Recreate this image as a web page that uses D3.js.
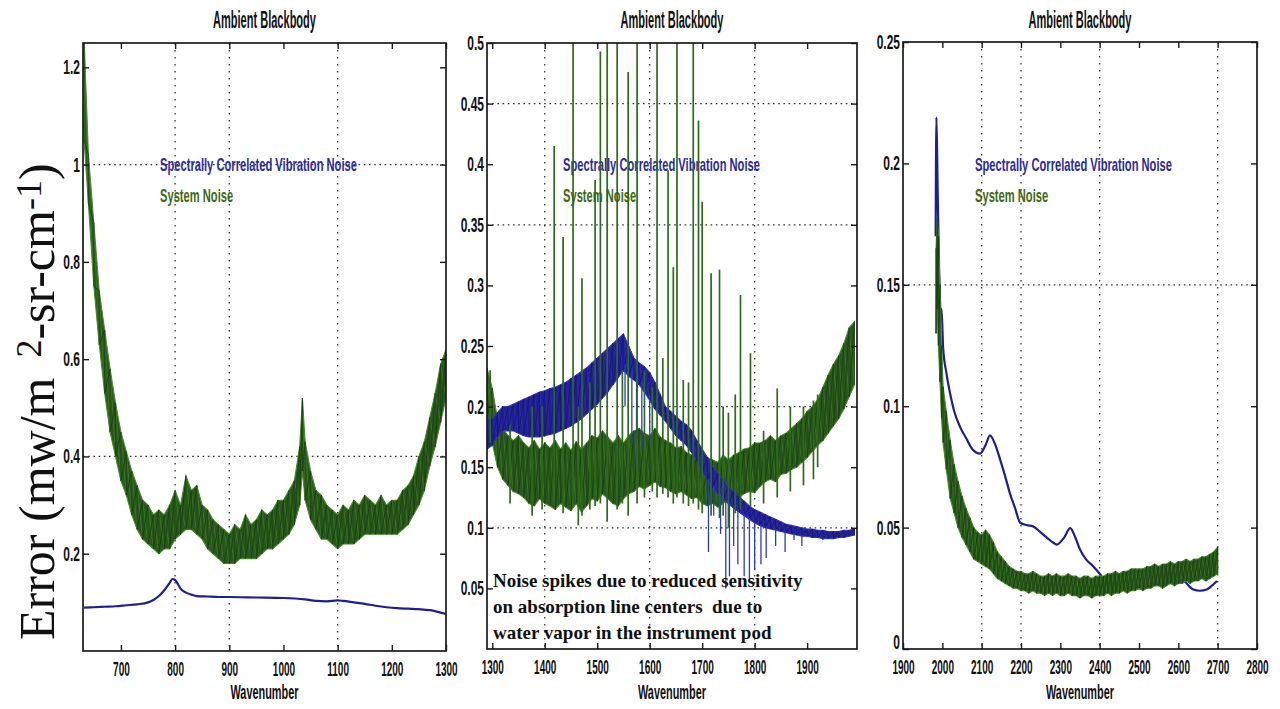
<!DOCTYPE html>
<html><head><meta charset="utf-8">
<script src="https://cdn.jsdelivr.net/npm/d3@7"></script>
<style>body{margin:0;background:#fff;overflow:hidden}</style>
</head><body>
<svg id="c" width="1280" height="709"></svg>
<script>
// ---------------- DATA ----------------
// Panel 1 (630-1300 cm-1)
const p1Wn = [632,640,650,660,670,680,690,700,710,720,730,740,750,760,770,780,790,800,810,820,830,840,850,860,870,880,890,900,910,920,930,940,950,960,970,980,990,1000,1010,1020,1030,1035,1040,1050,1060,1070,1080,1090,1100,1110,1120,1130,1140,1150,1160,1170,1180,1190,1200,1210,1220,1230,1240,1250,1260,1270,1280,1290,1300];
const p1SysHi = [1.26,1.02,0.88,0.74,0.66,0.58,0.51,0.45,0.41,0.37,0.34,0.31,0.30,0.28,0.29,0.28,0.30,0.33,0.30,0.36,0.33,0.34,0.30,0.29,0.27,0.26,0.25,0.24,0.26,0.25,0.28,0.26,0.27,0.29,0.28,0.29,0.31,0.31,0.33,0.35,0.42,0.52,0.43,0.37,0.33,0.32,0.30,0.29,0.28,0.30,0.29,0.31,0.30,0.32,0.31,0.30,0.32,0.30,0.31,0.31,0.33,0.34,0.36,0.40,0.43,0.48,0.53,0.59,0.62];
const p1SysLo = [1.05,0.92,0.75,0.63,0.53,0.45,0.40,0.35,0.32,0.28,0.25,0.23,0.22,0.21,0.20,0.21,0.21,0.23,0.24,0.25,0.25,0.24,0.23,0.21,0.20,0.19,0.18,0.18,0.18,0.19,0.19,0.19,0.19,0.20,0.21,0.21,0.22,0.23,0.24,0.26,0.30,0.37,0.31,0.27,0.25,0.23,0.23,0.22,0.21,0.22,0.22,0.22,0.23,0.24,0.24,0.24,0.24,0.24,0.24,0.24,0.25,0.26,0.28,0.30,0.33,0.38,0.42,0.47,0.52];
const p1VibWn = [632,650,670,690,710,730,750,760,770,780,790,795,800,805,810,820,830,840,860,880,900,950,1000,1040,1060,1080,1100,1110,1130,1150,1170,1190,1210,1230,1250,1270,1290,1300];
const p1Vib = [0.089,0.09,0.091,0.092,0.094,0.096,0.1,0.105,0.113,0.125,0.14,0.148,0.146,0.138,0.128,0.12,0.116,0.113,0.112,0.111,0.111,0.11,0.109,0.106,0.103,0.102,0.104,0.103,0.1,0.097,0.093,0.09,0.088,0.087,0.086,0.084,0.079,0.076];

// Panel 2 (1290-1995 cm-1)
const p2Wn = [1290,1300,1310,1320,1330,1340,1350,1360,1370,1380,1390,1400,1410,1420,1430,1440,1450,1460,1470,1480,1490,1500,1510,1520,1530,1540,1550,1560,1570,1580,1590,1600,1610,1620,1630,1640,1650,1660,1670,1680,1690,1700,1710,1720,1730,1740,1750,1760,1770,1780,1790,1800,1810,1820,1830,1840,1850,1860,1870,1880,1890,1900,1910,1920,1930,1940,1950,1960,1970,1980,1990];
const p2SysLo = [.19,.17,.15,.14,.135,.13,.128,.125,.12,.118,.124,.12,.118,.115,.12,.117,.114,.12,.113,.118,.124,.122,.128,.124,.12,.118,.124,.128,.13,.134,.132,.135,.138,.134,.133,.13,.128,.13,.127,.124,.125,.12,.118,.12,.117,.12,.123,.122,.125,.128,.13,.129,.134,.138,.14,.138,.144,.145,.148,.15,.154,.158,.163,.168,.172,.178,.184,.19,.198,.208,.218];
const p2SysHi = [.232,.215,.19,.182,.176,.172,.176,.17,.166,.172,.165,.17,.166,.172,.165,.17,.164,.171,.165,.17,.176,.174,.18,.175,.17,.176,.17,.176,.18,.182,.178,.176,.182,.175,.172,.17,.166,.167,.162,.16,.166,.16,.158,.156,.154,.16,.156,.16,.162,.165,.166,.17,.17,.172,.176,.172,.176,.178,.182,.186,.19,.196,.2,.206,.216,.226,.235,.242,.252,.265,.27];
const p2VibLo = [.165,.168,.175,.18,.18,.18,.178,.176,.175,.175,.175,.176,.177,.178,.18,.182,.184,.187,.19,.194,.198,.202,.207,.212,.218,.224,.23,.225,.222,.218,.212,.205,.198,.193,.188,.182,.176,.172,.168,.162,.155,.146,.14,.133,.128,.123,.12,.116,.113,.11,.107,.104,.102,.1,.099,.098,.097,.096,.095,.094,.093,.093,.092,.092,.091,.091,.091,.092,.092,.093,.094];
const p2VibHi = [.19,.19,.195,.2,.2,.202,.204,.206,.208,.21,.212,.213,.215,.216,.218,.22,.223,.226,.229,.232,.236,.24,.244,.248,.252,.256,.26,.25,.24,.236,.233,.228,.22,.21,.2,.196,.192,.188,.185,.18,.172,.165,.158,.15,.145,.14,.134,.13,.126,.122,.118,.115,.113,.111,.109,.107,.105,.103,.102,.101,.1,.099,.099,.098,.098,.097,.097,.097,.098,.098,.099];
// system-noise spikes at absorption line centres
const p2SpikeWn  = [1296,1334,1376,1395,1418,1435,1454,1464,1471,1486,1496,1506,1519,1538,1548,1559,1576,1590,1605,1614,1625,1635,1645,1652,1664,1674,1683,1693,1700,1717,1733,1740,1750,1763,1773,1792,1817,1843,1868,1893,1912,1920];
const p2SpikeTop = [.23,.185,.2,.2,.415,.34,.5,.2,.306,.22,.387,.493,.5,.5,.23,.476,.5,.23,.216,.5,.24,.395,.315,.5,.222,.22,.5,.436,.369,.31,.313,.2,.195,.21,.292,.244,.18,.215,.2,.2,.205,.21];
const p2SpikeLow = [.17,.12,.11,.115,.12,.112,.118,.102,.11,.115,.118,.12,.105,.115,.12,.11,.12,.125,.13,.125,.128,.125,.12,.125,.12,.118,.12,.115,.112,.11,.108,.11,.1,.112,.115,.118,.12,.125,.13,.135,.14,.15];
// vibration-noise dropouts
const p2DropWn  = [1553,1566,1575,1585,1600,1712,1722,1735,1745,1752,1760,1768,1780,1790,1800,1812,1822,1840,1858,1875,1890,1930];
const p2DropTop = [.235,.23,.225,.22,.21,.14,.135,.128,.123,.12,.118,.115,.112,.108,.105,.103,.101,.099,.097,.096,.094,.092];
const p2DropLow = [.2,.17,.15,.165,.17,.08,.11,.095,.05,.06,.085,.07,.06,.055,.065,.07,.075,.085,.08,.09,.085,.09];

// Panel 3 (1900-2800 cm-1)
const p3Wn = [1984,1987,1990,1994,1998,2002,2010,2020,2030,2040,2050,2060,2070,2080,2090,2100,2110,2120,2130,2140,2150,2160,2170,2180,2190,2200,2210,2220,2230,2240,2250,2260,2270,2280,2290,2300,2310,2320,2330,2340,2350,2360,2370,2380,2390,2400,2410,2420,2430,2440,2450,2460,2470,2480,2490,2500,2510,2520,2530,2540,2550,2560,2570,2580,2590,2600,2610,2620,2630,2640,2650,2660,2670,2680,2690,2700];
const p3SysLo = [.13,.14,.125,.11,.095,.085,.074,.062,.056,.05,.046,.043,.04,.037,.036,.035,.034,.033,.031,.029,.028,.027,.026,.025,.025,.024,.024,.023,.024,.023,.023,.022,.023,.022,.023,.022,.022,.023,.022,.022,.021,.022,.022,.021,.022,.022,.022,.023,.022,.023,.023,.024,.023,.024,.024,.025,.024,.025,.025,.026,.026,.025,.026,.027,.026,.027,.027,.028,.027,.028,.028,.029,.028,.029,.03,.031];
const p3SysHi = [.165,.178,.17,.15,.125,.108,.098,.086,.076,.069,.063,.058,.054,.05,.048,.047,.049,.047,.044,.04,.038,.036,.034,.033,.032,.032,.031,.031,.032,.031,.03,.03,.031,.03,.031,.03,.03,.031,.03,.03,.029,.03,.03,.029,.03,.03,.03,.031,.031,.032,.031,.032,.032,.033,.033,.033,.033,.034,.034,.035,.034,.035,.035,.036,.035,.036,.036,.037,.036,.037,.037,.038,.038,.039,.04,.042];
const p3VibWn = [1983,1985,1988,1992,1996,1998,2002,2010,2020,2030,2045,2060,2078,2096,2110,2121,2135,2147,2160,2172,2185,2198,2215,2231,2250,2265,2280,2291,2310,2325,2338,2350,2365,2384,2400,2409,2430,2469,2500,2530,2553,2575,2596,2615,2638,2655,2672,2685,2698];
const p3Vib = [0.17,0.219,0.19,0.155,0.138,0.14,0.124,0.114,0.105,0.098,0.0915,0.087,0.082,0.0805,0.084,0.088,0.084,0.078,0.071,0.064,0.058,0.052,0.051,0.0505,0.048,0.046,0.044,0.043,0.046,0.0498,0.046,0.041,0.037,0.034,0.031,0.029,0.027,0.0256,0.025,0.026,0.027,0.029,0.03,0.028,0.0245,0.024,0.0245,0.026,0.028];

// Ticks and grid
const p1XTicks = [700,800,900,1000,1100,1200,1300];
const p1YTicks = [0.2,0.4,0.6,0.8,1,1.2];
const p2XTicks = [1300,1400,1500,1600,1700,1800,1900];
const p2YTicks = [0.05,0.1,0.15,0.2,0.25,0.3,0.35,0.4,0.45,0.5];
const p3XTicks = [1900,2000,2100,2200,2300,2400,2500,2600,2700,2800];
const p3YTicks = [0,0.05,0.1,0.15,0.2,0.25];
const p1GridX = [800,900,1100], p1GridY = [0.4,1];
const p2GridX = [1400,1600,1800], p2GridY = [0.1,0.2,0.35,0.45];
const p3GridX = [2100,2200,2400,2700], p3GridY = [0.15];

const titleText = "Ambient Blackbody";
const xLabelText = "Wavenumber";
const legendVib = "Spectrally Correlated Vibration Noise";
const legendSys = "System Noise";
const noteLines = ["Noise spikes due to reduced sensitivity","on absorption line centers  due to","water vapor in the instrument pod"];

// ---------------- DRAW ----------------
const svg = d3.select('#c');
const NARROW = "'Liberation Sans', Arial, Helvetica, sans-serif";
const BLUE = "#1e1e96", GREEN = "#28581b", GREEN_L = "#4a8a2c", GREEN_D = "#173c10";

const panels = [
  {x0:83,x1:446,y0:43,y1:651,xDom:[630,1300],yDom:[0,1.25],xt:p1XTicks,yt:p1YTicks,gx:p1GridX,gy:p1GridY,
   sys:{wn:p1Wn,lo:p1SysLo,hi:p1SysHi}, vibLine:{wn:p1VibWn,v:p1Vib}, legX:160},
  {x0:487,x1:857,y0:43,y1:649,xDom:[1290,1995],yDom:[0,0.5],xt:p2XTicks,yt:p2YTicks,gx:p2GridX,gy:p2GridY,
   sys:{wn:p2Wn,lo:p2SysLo,hi:p2SysHi}, vibBand:{wn:p2Wn,lo:p2VibLo,hi:p2VibHi},
   spikes:{wn:p2SpikeWn,lo:p2SpikeLow,hi:p2SpikeTop}, drops:{wn:p2DropWn,lo:p2DropLow,hi:p2DropTop}, legX:563},
  {x0:903,x1:1257,y0:42,y1:649,xDom:[1900,2800],yDom:[0,0.25],xt:p3XTicks,yt:p3YTicks,gx:p3GridX,gy:p3GridY,
   sys:{wn:p3Wn,lo:p3SysLo,hi:p3SysHi}, vibLine:{wn:p3VibWn,v:p3Vib}, legX:975}
];

function condText(parent, x, y, str, size, k, anchor, fill, weight){
  return parent.append('text')
    .attr('transform', `translate(${x},${y}) scale(${k},1)`)
    .attr('text-anchor', anchor)
    .style('font-family', NARROW).style('font-size', size+'px')
    .style('font-weight', weight||'bold')
    .attr('fill', fill||'#111').text(str);
}

function band(g, x, y, s, fill, light, dark){
  const pts = s.wn.map((w,i)=>({w, lo:s.lo[i], hi:s.hi[i]}));
  g.append('path').datum(pts)
    .attr('d', d3.area().x(d=>x(d.w)).y0(d=>y(d.lo)).y1(d=>y(d.hi)))
    .attr('fill', fill).attr('stroke', light).attr('stroke-width', 1.1);
  const zz = pts.flatMap(d=>[{w:d.w,v:d.lo},{w:d.w,v:d.hi}]);
  const zz2 = pts.flatMap(d=>[{w:d.w,v:d.hi},{w:d.w,v:d.lo}]);
  const ln = d3.line().x(d=>x(d.w)).y(d=>y(d.v));
  g.append('path').datum(zz).attr('d', ln).attr('fill','none').attr('stroke', light).attr('stroke-width',0.8).attr('stroke-opacity',0.7);
  g.append('path').datum(zz2).attr('d', ln).attr('fill','none').attr('stroke', dark).attr('stroke-width',0.8);
}

function vbars(g, x, y, s, color, w){
  g.selectAll(null).data(s.wn.map((wn,i)=>({wn, lo:s.lo[i], hi:s.hi[i]}))).join('line')
    .attr('x1',d=>x(d.wn)).attr('x2',d=>x(d.wn))
    .attr('y1',d=>y(d.lo)).attr('y2',d=>y(d.hi))
    .attr('stroke',color).attr('stroke-width',w);
}

panels.forEach((p, idx) => {
  const g = svg.append('g');
  const x = d3.scaleLinear().domain(p.xDom).range([p.x0, p.x1]);
  const y = d3.scaleLinear().domain(p.yDom).range([p.y1, p.y0]);
  const cid = 'clip'+idx;
  svg.append('clipPath').attr('id',cid).append('rect')
    .attr('x',p.x0).attr('y',p.y0).attr('width',p.x1-p.x0).attr('height',p.y1-p.y0);

  // grid
  g.selectAll('.gx').data(p.gx).join('line')
    .attr('x1',d=>x(d)).attr('x2',d=>x(d)).attr('y1',p.y0).attr('y2',p.y1)
    .attr('stroke','#333').attr('stroke-width',1.3).attr('stroke-dasharray','1.6,5.4');
  g.selectAll('.gy').data(p.gy).join('line')
    .attr('y1',d=>y(d)).attr('y2',d=>y(d)).attr('x1',p.x0).attr('x2',p.x1)
    .attr('stroke','#333').attr('stroke-width',1.3).attr('stroke-dasharray','1.6,3.6');

  // legend (drawn under the data)
  condText(g, p.legX, 171, legendVib, 18, 0.62, 'start', '#2b2ba0');
  condText(g, p.legX, 202, legendSys, 18, 0.62, 'start', '#3d6a14');

  const d = g.append('g').attr('clip-path', `url(#${cid})`);
  if (p.vibLine) {
    d.append('path').datum(p.vibLine.wn.map((w,i)=>({w, v:p.vibLine.v[i]})))
      .attr('d', d3.line().x(e=>x(e.w)).y(e=>y(e.v)).curve(d3.curveMonotoneX))
      .attr('fill','none').attr('stroke',BLUE).attr('stroke-width',2.2);
  }
  band(d, x, y, p.sys, GREEN, GREEN_L, GREEN_D);
  if (p.vibBand) {
    band(d, x, y, p.vibBand, "#22229a", "#3434b0", "#151570");
    vbars(d, x, y, p.drops, "#2a3ac0", 1.3);
  }
  if (p.spikes) vbars(d, x, y, p.spikes, "#2f6a1c", 1.7);

  // frame
  g.append('rect').attr('x',p.x0).attr('y',p.y0).attr('width',p.x1-p.x0).attr('height',p.y1-p.y0)
    .attr('fill','none').attr('stroke','#1a1a1a').attr('stroke-width',1.7);

  const styleAxis = a => {
    a.select('.domain').remove();
    a.selectAll('line').attr('stroke','#1a1a1a').attr('stroke-width',1.4);
    a.selectAll('text').style('font-family',NARROW).style('font-size','20px').style('font-weight','bold').attr('fill','#111');
  };
  const fmt = v => String(v);
  g.append('g').attr('transform',`translate(0,${p.y1})`)
    .call(d3.axisBottom(x).tickValues(p.xt).tickSize(-6).tickPadding(11).tickFormat(fmt))
    .call(styleAxis).call(a=>a.selectAll('text').attr('transform','scale(0.5,1)'));
  g.append('g').attr('transform',`translate(0,${p.y0})`)
    .call(d3.axisTop(x).tickValues(p.xt).tickSize(-6).tickFormat(''))
    .call(styleAxis);
  g.append('g').attr('transform',`translate(${p.x0},0)`)
    .call(d3.axisLeft(y).tickValues(p.yt).tickSize(-6).tickPadding(5).tickFormat(fmt))
    .call(styleAxis)
    .call(a=>a.selectAll('text').attr('transform','scale(0.6,1)'))
    .call(a=>a.selectAll('text').filter(v=>v===0).attr('dy','-0.05em'));
  g.append('g').attr('transform',`translate(${p.x1},0)`)
    .call(d3.axisRight(y).tickValues(p.yt).tickSize(-6).tickFormat(''))
    .call(styleAxis);

  // title & x label
  const cx = (p.x0+p.x1)/2;
  condText(g, cx, 28, titleText, 24, 0.46, 'middle', '#111');
  condText(g, cx, 699, xLabelText, 21, 0.52, 'middle', '#111');

  if (idx === 1) {
    const t = g.append('text').style('font-family',"'Liberation Serif','Times New Roman',serif")
      .style('font-size','19px').style('font-weight','bold').attr('fill','#111');
    noteLines.forEach((s,i)=>t.append('tspan').attr('x',p.x0+6).attr('y',587+i*26).attr('xml:space','preserve').text(s));
  }
});

// y-axis title
const yt = svg.append('text').attr('transform','translate(54,640) rotate(-90)')
  .style('font-family',"'Liberation Serif','Times New Roman',serif").style('font-size','50px').attr('fill','#111');
yt.append('tspan').text('Error (mw/m');
yt.append('tspan').attr('dx',20).attr('dy',-13).style('font-size','36px').text('2');
yt.append('tspan').attr('dy',13).text('-sr-cm');
yt.append('tspan').attr('dy',-13).style('font-size','36px').text('-1');
yt.append('tspan').attr('dy',13).text(')');
</script>
</body></html>
